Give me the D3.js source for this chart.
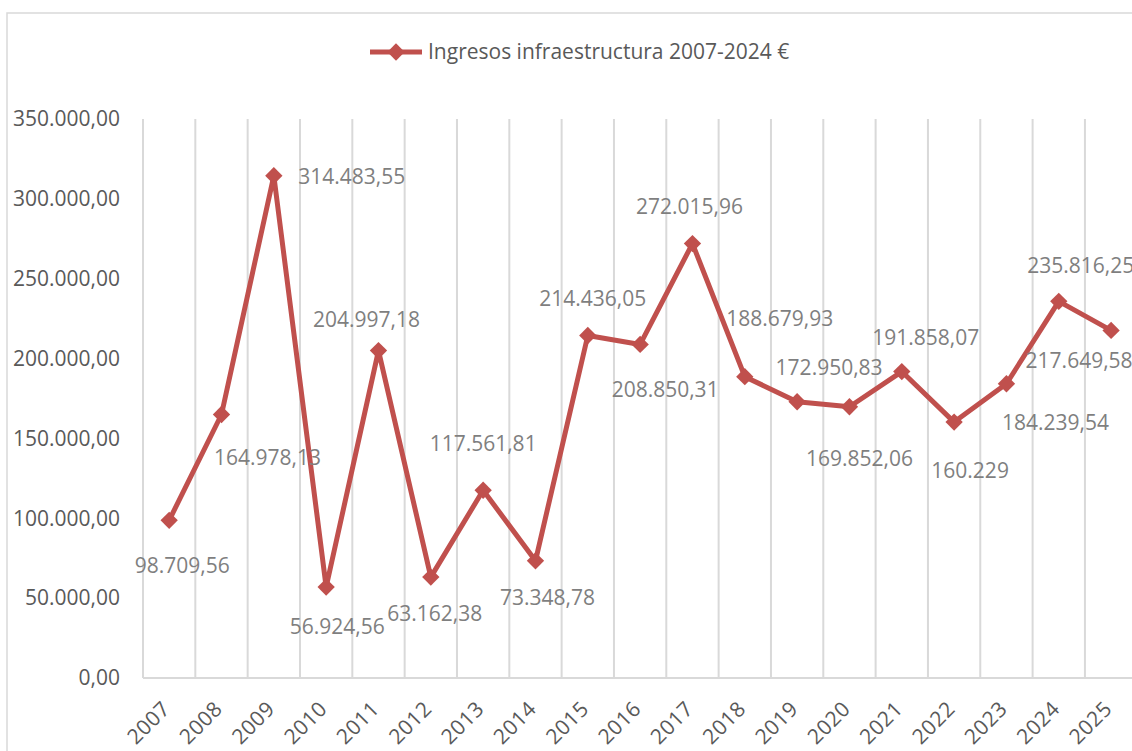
<!DOCTYPE html>
<html>
<head>
<meta charset="utf-8">
<script src="https://cdn.jsdelivr.net/npm/d3@7"></script>
<style>
  body { margin: 0; background: #fff; }
  text { font-family: "Open Sans", sans-serif; }
</style>
</head>
<body>
<div id="chart"></div>
<script>
// data
var years = ["2007", "2008", "2009", "2010", "2011", "2012", "2013", "2014", "2015", "2016",
  "2017", "2018", "2019", "2020", "2021", "2022", "2023", "2024", "2025"];
var values = [98709.56, 164978.13, 314483.55, 56924.56, 204997.18, 63162.38, 117561.81, 73348.78,
  214436.05, 208850.31, 272015.96, 188679.93, 172950.83, 169852.06, 191858.07, 160229, 184239.54,
  235816.25, 217649.58];
var labelDecimals = [2, 2, 2, 2, 2, 2, 2, 2, 2, 2, 2, 2, 2, 2, 2, 0, 2, 2, 2];
var yTicks = [0, 50000, 100000, 150000, 200000, 250000, 300000, 350000];
var seriesName = "Ingresos infraestructura 2007-2024 €";

// where each data label sits relative to its point (dx, dy)
var labelOffsets = [[13, 45], [46, 43], [78, 1], [11, 40], [-12, -31], [4, 37], [0, -47], [12, 37],
  [5, -37], [25, 45], [-3, -37], [35, -58], [32, -34], [10, 52], [24, -34], [16, 49], [49, 39],
  [22, -36], [-32, 30]];

var W = 1132, H = 751;
var plotLeft = 143, step = 52.33, plotTop = 119, plotBottom = 678;
var red = "#C0504D", grid = "#D9D9D9";

var es = d3.formatLocale({ decimal: ",", thousands: ".", grouping: [3], currency: ["", "€"] });

var svg = d3.select("#chart")
  .append("svg")
  .attr("width", W)
  .attr("height", H);

// chart border
svg.append("rect")
  .attr("x", 7).attr("y", 13)
  .attr("width", W + 20).attr("height", H + 20)
  .attr("fill", "#fff")
  .attr("stroke", grid)
  .attr("stroke-width", 1.5);

var x = d3.scaleBand()
  .domain(years)
  .range([plotLeft, plotLeft + step * years.length]);

var y = d3.scaleLinear()
  .domain([0, 350000])
  .range([plotBottom, plotTop]);

// vertical gridlines at category edges
var edges = years.map(function (d) { return x(d) }).concat([x.range()[1]]);
svg.append("g")
  .selectAll("line")
  .data(edges)
  .enter()
  .append("line")
  .attr("x1", function (d) { return d })
  .attr("x2", function (d) { return d })
  .attr("y1", y(350000))
  .attr("y2", y(0))
  .attr("stroke", grid)
  .attr("stroke-width", 2);

// baseline
svg.append("line")
  .attr("x1", plotLeft).attr("x2", x.range()[1])
  .attr("y1", y(0)).attr("y2", y(0))
  .attr("stroke", grid)
  .attr("stroke-width", 2);

// Y axis
var yAxis = svg.append("g")
  .attr("transform", "translate(" + plotLeft + ",0)")
  .call(d3.axisLeft(y).tickValues(yTicks).tickSize(0).tickPadding(23)
    .tickFormat(es.format(",.2f")));
yAxis.select(".domain").remove();
yAxis.selectAll("text")
  .attr("fill", "#595959")
  .style("font-size", "21px")
  .style("font-family", "'Open Sans', sans-serif");

// X axis
var xAxis = svg.append("g")
  .attr("transform", "translate(0," + plotBottom + ")")
  .call(d3.axisBottom(x).tickSize(0).tickPadding(0));
xAxis.select(".domain").remove();
xAxis.selectAll("text")
  .attr("fill", "#595959")
  .style("font-size", "21px")
  .style("letter-spacing", "0.5px")
  .style("font-family", "'Open Sans', sans-serif")
  .attr("text-anchor", "end")
  .attr("y", 0)
  .attr("dy", "0.35em")
  .attr("transform", "translate(-3,27) rotate(-45)");

// line
svg.append("path")
  .datum(values)
  .attr("fill", "none")
  .attr("stroke", red)
  .attr("stroke-width", 5)
  .attr("stroke-linejoin", "round")
  .attr("d", d3.line()
    .x(function (d, i) { return x(years[i]) + x.bandwidth() / 2 })
    .y(function (d) { return y(d) })
  );

var diamond = d3.symbol().type(d3.symbolSquare).size(150);

// markers
svg.append("g")
  .selectAll("path")
  .data(values)
  .enter()
  .append("path")
  .attr("d", diamond)
  .attr("fill", red)
  .attr("transform", function (d, i) {
    return "translate(" + (x(years[i]) + x.bandwidth() / 2) + "," + y(d) + ") rotate(45)";
  });

// data labels
svg.append("g")
  .selectAll("text")
  .data(values)
  .enter()
  .append("text")
  .attr("x", function (d, i) { return x(years[i]) + x.bandwidth() / 2 + labelOffsets[i][0] })
  .attr("y", function (d, i) { return y(d) + labelOffsets[i][1] })
  .attr("dy", "0.35em")
  .attr("text-anchor", "middle")
  .attr("fill", "#7F7F7F")
  .style("font-size", "21px")
  .text(function (d, i) { return es.format(",." + labelDecimals[i] + "f")(d) });

// legend
var legend = svg.append("g").attr("transform", "translate(370,52)");
legend.append("line")
  .attr("x1", 0).attr("x2", 52)
  .attr("stroke", red)
  .attr("stroke-width", 5);
legend.append("path")
  .attr("d", diamond)
  .attr("fill", red)
  .attr("transform", "translate(26,0) rotate(45)");
legend.append("text")
  .attr("x", 58)
  .attr("dy", "0.35em")
  .attr("fill", "#595959")
  .style("font-size", "21px")
  .text(seriesName);
</script>
</body>
</html>
